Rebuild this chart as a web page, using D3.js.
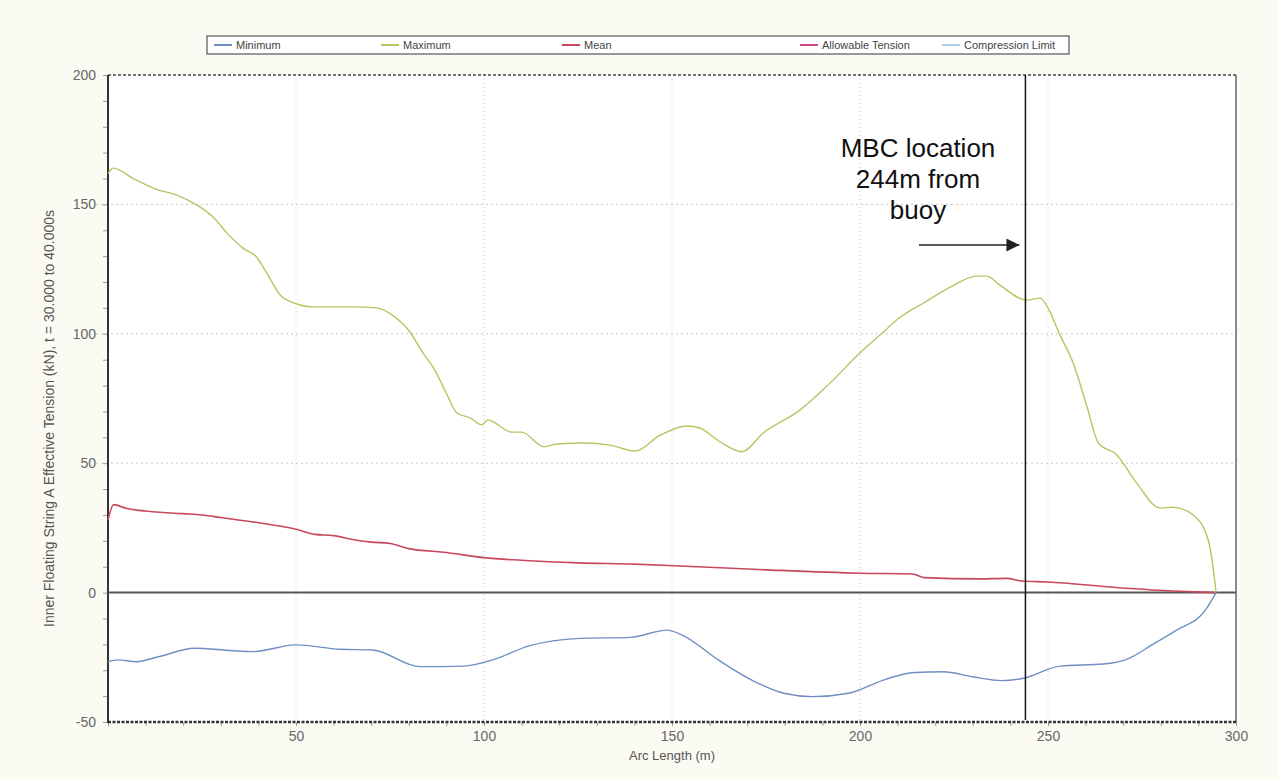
<!DOCTYPE html>
<html>
<head>
<meta charset="utf-8">
<script src="https://cdn.jsdelivr.net/npm/d3@7"></script>
<style>
  body { margin: 0; background: #fbfbf3; }
  svg { display: block; font-family: Arial, "Liberation Sans", sans-serif; }
</style>
</head>
<body>
<svg id="chart" width="1279" height="780"></svg>
<script>
// values
const seriesNames = ['Minimum', 'Maximum', 'Mean', 'Allowable Tension', 'Compression Limit']
const seriesColors = ['#6f8fc4', '#b5c663', '#c9485e', '#d4468a', '#a9d3e6']

const xTicks = [50, 100, 150, 200, 250, 300]
const yTicks = [-50, 0, 50, 100, 150, 200]

const maxArc = [0, 1.4, 6.7, 12.5, 18.3, 23.6, 28, 31.6, 36, 39.5, 42.2, 45.8, 49.3, 54.6, 65, 71.5, 75.8, 80.3, 83.8, 86.5, 90, 92.8, 96.3, 99.4, 101, 107.4, 110, 116, 119.4, 126.4, 133.5, 140.2, 146.8, 154, 157.4, 162.8, 168.6, 174.2, 184, 191, 200.8, 205.3, 210.6, 216.8, 224, 231, 233.7, 237.2, 244.4, 247.9, 249.6, 253.2, 256.7, 260.4, 263.4, 268.3, 273.6, 279.8, 283.2, 288.6, 292.6, 294, 294.7]
const maxVal = [162, 164, 160, 156, 153.6, 149.8, 145, 139, 133, 129.7, 123.5, 115, 112, 110.4, 110.4, 110, 107, 100.7, 92.5, 87, 77, 69.4, 67.5, 64.8, 66.7, 62, 62, 56.3, 57.4, 57.8, 57, 54.7, 60.8, 64.4, 63.6, 58.2, 54.4, 61.6, 70.5, 79.5, 93.7, 99.5, 106.3, 111.8, 118, 122.3, 122.3, 118.8, 113, 113.8, 111, 99.5, 88.7, 71.7, 57.8, 53.2, 42.3, 32.7, 33, 30, 20.3, 8.7, 0]

const minArc = [0, 2.7, 7.5, 13.4, 23, 32.7, 38.5, 50, 61.7, 70.4, 83, 94.6, 102.3, 112, 125.5, 139, 148.7, 152.7, 162.3, 172, 179.7, 187.4, 197, 206.8, 214.5, 222.2, 229.9, 237.7, 243.5, 253.2, 264.8, 270.6, 278.3, 284.2, 291.9, 294.7]
const minVal = [-26.7, -26, -26.7, -24.8, -21.5, -22.4, -22.8, -20.2, -21.9, -22.2, -28.6, -28.4, -26, -20.6, -17.7, -17.3, -14.5, -16.4, -26, -34.4, -38.9, -40.2, -38.9, -33.5, -30.9, -30.6, -32.5, -34, -33.1, -28.4, -27.6, -26, -19.6, -14.5, -6.7, 0]

const meanArc = [0, 1.5, 5, 10, 20, 25, 30, 40, 50, 55, 60, 65, 70, 75, 80, 90, 100, 110, 125, 140, 152, 175, 200, 214, 217, 232, 239, 243, 250, 268, 285, 294.7]
const meanVal = [28, 34, 32.5, 31.5, 30.5, 30, 29, 27, 24.5, 22.5, 22, 20.5, 19.5, 19, 17, 15.5, 13.5, 12.5, 11.5, 11, 10.3, 8.8, 7.5, 7.2, 5.8, 5.3, 5.5, 4.5, 4.1, 2, 0.5, 0]

const mbcArc = 244
const mbcText = ['MBC location', '244m from', 'buoy']

const svg = d3.select('#chart')
const plotLeft = 108
const plotRight = 1236
const plotTop = 75
const plotBottom = 722

const x = d3.scaleLinear().domain([0, 300]).range([plotLeft, plotRight])
const y = d3.scaleLinear().domain([-50, 200]).range([plotBottom, plotTop])

svg.append('rect')
  .attr('x', plotLeft).attr('y', plotTop)
  .attr('width', plotRight - plotLeft).attr('height', plotBottom - plotTop)
  .attr('fill', '#fff')

// grid
svg.append('g')
  .selectAll('line')
  .data(xTicks.slice(0, -1))
  .join('line')
  .attr('x1', d => x(d)).attr('x2', d => x(d))
  .attr('y1', plotTop).attr('y2', plotBottom)
  .attr('stroke', '#c8c8c8')
  .attr('stroke-dasharray', '1,3')

svg.append('g')
  .selectAll('line')
  .data([50, 100, 150])
  .join('line')
  .attr('x1', plotLeft - 12).attr('x2', plotRight)
  .attr('y1', d => y(d)).attr('y2', d => y(d))
  .attr('stroke', '#c8c8c8')
  .attr('stroke-dasharray', '2,3')

// frame
svg.append('line')
  .attr('x1', plotLeft).attr('x2', plotRight).attr('y1', plotTop).attr('y2', plotTop)
  .attr('stroke', '#444').attr('stroke-width', 1.5).attr('stroke-dasharray', '3,2')
svg.append('line')
  .attr('x1', plotRight).attr('x2', plotRight).attr('y1', plotTop).attr('y2', plotBottom)
  .attr('stroke', '#666').attr('stroke-width', 1.5)

// minor ticks
svg.append('g')
  .attr('transform', `translate(${plotLeft},0)`)
  .call(d3.axisLeft(y).tickValues(d3.range(-50, 201, 10)).tickSize(5).tickFormat(''))
  .call(g => g.select('.domain').remove())
  .call(g => g.selectAll('line').attr('stroke', '#999'))

svg.append('g')
  .attr('transform', `translate(0,${plotBottom})`)
  .call(d3.axisBottom(x).tickValues(d3.range(0, 301, 10)).tickSize(4).tickFormat(''))
  .call(g => g.select('.domain').remove())
  .call(g => g.selectAll('line').attr('stroke', '#999'))

svg.append('line')
  .attr('x1', plotLeft).attr('x2', plotLeft).attr('y1', plotTop).attr('y2', plotBottom + 1)
  .attr('stroke', '#333').attr('stroke-width', 2)
svg.append('line')
  .attr('x1', plotLeft).attr('x2', plotRight).attr('y1', plotBottom).attr('y2', plotBottom)
  .attr('stroke', '#333').attr('stroke-width', 2.5).attr('stroke-dasharray', '3,1.5')

// tick labels
svg.append('g')
  .attr('transform', `translate(${plotLeft},0)`)
  .call(d3.axisLeft(y).tickValues(yTicks).tickSize(0).tickPadding(12).tickFormat(d => String(d)))
  .call(g => g.select('.domain').remove())
  .call(g => g.selectAll('text').attr('fill', '#666').attr('font-size', 14).attr('font-family', 'Arial, Liberation Sans'))

svg.append('g')
  .attr('transform', `translate(0,${plotBottom})`)
  .call(d3.axisBottom(x).tickValues(xTicks).tickSize(0).tickPadding(9).tickFormat(d => String(d)))
  .call(g => g.select('.domain').remove())
  .call(g => g.selectAll('text').attr('fill', '#666').attr('font-size', 14).attr('font-family', 'Arial, Liberation Sans'))

svg.append('text')
  .attr('x', (plotLeft + plotRight) / 2).attr('y', 760)
  .attr('text-anchor', 'middle')
  .attr('font-size', 13).attr('fill', '#555')
  .text('Arc Length (m)')

svg.append('text')
  .attr('transform', `translate(54,${(plotTop + plotBottom) / 2 + 20}) rotate(-90)`)
  .attr('text-anchor', 'middle')
  .attr('font-size', 14).attr('fill', '#555')
  .text('Inner Floating String A Effective Tension (kN), t = 30.000 to 40.000s')

// zero line
svg.append('line')
  .attr('x1', plotLeft).attr('x2', plotRight).attr('y1', y(0)).attr('y2', y(0))
  .attr('stroke', '#555').attr('stroke-width', 2)

const line = d3.line().x(d => x(d[0])).y(d => y(d[1])).curve(d3.curveMonotoneX)

svg.append('path')
  .datum(d3.zip(meanArc, meanVal))
  .attr('d', line).attr('fill', 'none')
  .attr('stroke', seriesColors[2]).attr('stroke-width', 1.6)

svg.append('path')
  .datum(d3.zip(minArc, minVal))
  .attr('d', line).attr('fill', 'none')
  .attr('stroke', seriesColors[0]).attr('stroke-width', 1.4)

svg.append('path')
  .datum(d3.zip(maxArc, maxVal))
  .attr('d', line).attr('fill', 'none')
  .attr('stroke', seriesColors[1]).attr('stroke-width', 1.4)

// MBC annotation
svg.append('line')
  .attr('x1', x(mbcArc)).attr('x2', x(mbcArc))
  .attr('y1', plotTop).attr('y2', plotBottom - 2)
  .attr('stroke', '#111').attr('stroke-width', 1.5)

svg.append('defs').append('marker')
  .attr('id', 'arrow')
  .attr('viewBox', '0 0 10 10').attr('refX', 10).attr('refY', 5)
  .attr('markerWidth', 20).attr('markerHeight', 13)
  .attr('markerUnits', 'userSpaceOnUse')
  .attr('orient', 'auto')
  .append('path').attr('d', 'M0,0L10,5L0,10Z').attr('fill', '#222')

svg.append('line')
  .attr('x1', 919).attr('x2', x(mbcArc) - 6)
  .attr('y1', 245).attr('y2', 245)
  .attr('stroke', '#222').attr('stroke-width', 1.3)
  .attr('marker-end', 'url(#arrow)')

svg.append('text')
  .attr('x', 918).attr('y', 157)
  .attr('text-anchor', 'middle')
  .attr('font-size', 26).attr('fill', '#111')
  .selectAll('tspan')
  .data(mbcText)
  .join('tspan')
  .attr('x', 918)
  .attr('dy', (d, i) => i === 0 ? 0 : 31)
  .text(d => d)

// legend
const legendX = [214, 381, 562, 800, 942]
const legend = svg.append('g')
legend.append('rect')
  .attr('x', 207).attr('y', 36).attr('width', 862).attr('height', 18)
  .attr('fill', '#fff').attr('stroke', '#555').attr('stroke-width', 1.2)

const item = legend.selectAll('g.item')
  .data(seriesNames)
  .join('g')
  .attr('class', 'item')
  .attr('transform', (d, i) => `translate(${legendX[i]},45)`)

item.append('line')
  .attr('x1', 0).attr('x2', 18)
  .attr('stroke', (d, i) => seriesColors[i]).attr('stroke-width', 2)

item.append('text')
  .attr('x', 22).attr('dy', '0.35em')
  .attr('font-size', 11).attr('fill', '#444')
  .text(d => d)
</script>
</body>
</html>
